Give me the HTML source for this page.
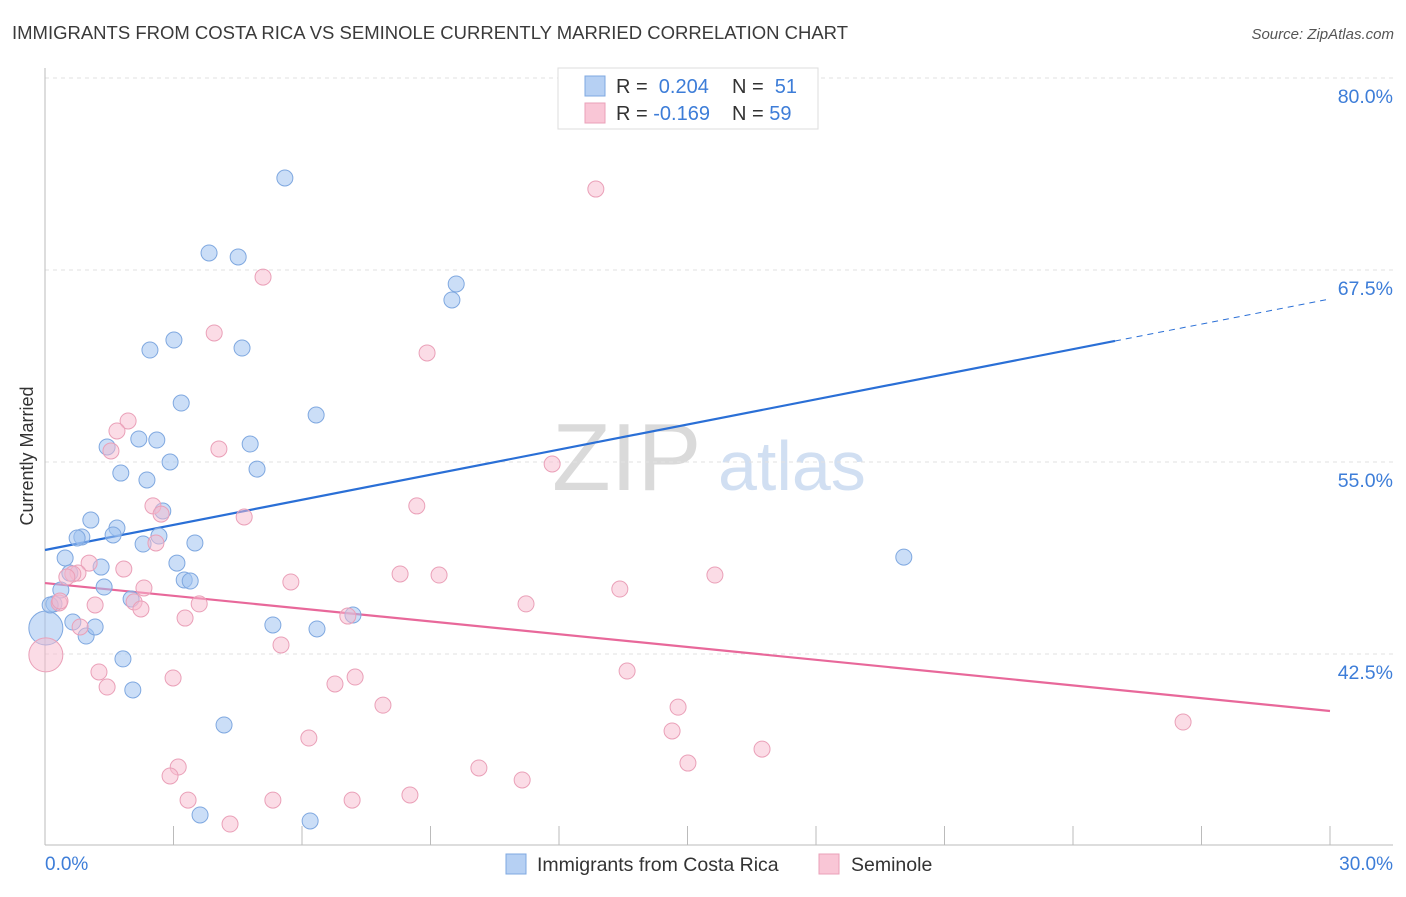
<!DOCTYPE html>
<html><head><meta charset="utf-8">
<style>
body{margin:0;background:#fff;font-family:"Liberation Sans",sans-serif;}
svg text{font-family:"Liberation Sans",sans-serif;}
</style></head>
<body>
<svg id="chart" width="1406" height="892" viewBox="0 0 1406 892">
<text x="12" y="39" font-size="18" fill="#3a3a3a" textLength="836" lengthAdjust="spacingAndGlyphs">IMMIGRANTS FROM COSTA RICA VS SEMINOLE CURRENTLY MARRIED CORRELATION CHART</text>
<text x="1394" y="39" font-size="15" fill="#555" font-style="italic" text-anchor="end">Source: ZipAtlas.com</text>
<g>
<text x="552" y="490" font-size="96" fill="#d4d4d4" font-family="Liberation Serif" opacity="0.85">ZIP</text>
<text x="718" y="490" font-size="70" fill="#c6d8f0" opacity="0.8">atlas</text>
</g>
<g id="grid"></g>
<g id="axes"></g>
<g id="trend"></g>
<g id="points"></g>
<text x="33" y="456" font-size="18" fill="#333" text-anchor="middle" transform="rotate(-90 33 456)">Currently Married</text>
<text x="45" y="870" font-size="19" fill="#3d7dd8">0.0%</text>
<text x="1393" y="870" font-size="19" fill="#3d7dd8" text-anchor="end">30.0%</text>
<g>
<rect x="558" y="68" width="260" height="61" fill="#fff" stroke="#ddd"/>
<rect x="585" y="76" width="20" height="20" fill="#b6d0f3" stroke="#7fa8e0"/>
<rect x="585" y="103" width="20" height="20" fill="#f9c6d6" stroke="#eaa0b8"/>
<text x="616" y="93" font-size="20" fill="#333">R = <tspan fill="#3d7dd8">&#160;0.204</tspan><tspan x="732">N = </tspan><tspan fill="#3d7dd8">&#160;51</tspan></text>
<text x="616" y="120" font-size="20" fill="#333">R = <tspan fill="#3d7dd8">-0.169</tspan><tspan x="732">N = </tspan><tspan fill="#3d7dd8">59</tspan></text>
</g>
<g>
<rect x="506" y="854" width="20" height="20" fill="#b6d0f3" stroke="#7fa8e0"/>
<text x="537" y="871" font-size="19.5" fill="#333">Immigrants from Costa Rica</text>
<rect x="819" y="854" width="20" height="20" fill="#f9c6d6" stroke="#eaa0b8"/>
<text x="851" y="871" font-size="19.5" fill="#333">Seminole</text>
</g>
</svg>
<script>
const yTicks=[80.0,67.5,55.0,42.5];
const blueX=[5.60,3.83,4.51,9.60,9.50,3.01,2.45,4.60,3.18,6.33,1.45,2.19,2.61,4.79,2.92,1.77,4.95,2.38,2.75,1.07,1.68,0.86,0.75,1.59,2.29,2.66,3.50,0.47,20.05,1.31,0.58,3.08,3.25,3.39,0.37,0.21,1.38,2.01,7.19,0.65,0.96,1.17,5.32,6.35,1.82,2.05,4.18,3.62,6.19,0.02,0.12];
const blueY=[73.49,68.61,68.35,66.59,65.55,62.94,62.29,62.42,58.84,58.06,55.98,56.50,56.43,56.17,55.00,54.28,54.54,53.83,51.81,51.22,50.70,50.12,50.05,50.25,49.66,50.18,49.73,48.75,48.81,48.16,47.77,48.42,47.32,47.25,46.67,45.76,46.86,46.08,45.04,44.58,43.67,44.26,44.39,44.13,42.18,40.16,37.88,32.02,31.63,44.19,45.69];
const blueBig=[49];
const pinkX=[12.86,5.09,3.95,8.92,1.94,1.68,1.54,4.06,11.84,2.52,8.68,2.71,4.65,1.03,0.77,0.65,1.84,2.59,2.31,5.74,8.29,9.20,13.42,15.64,0.33,1.17,2.08,2.24,3.60,3.27,11.23,7.07,0.82,5.51,1.26,2.99,1.45,6.77,7.24,13.59,7.89,14.78,14.64,6.16,26.57,16.74,15.01,3.11,2.92,10.13,11.14,3.34,5.32,7.17,8.52,4.32,0.02,0.35,0.51];
const pinkY=[72.77,67.04,63.40,62.10,57.67,57.02,55.72,55.85,54.87,52.14,52.14,51.61,51.42,48.42,47.77,47.71,48.03,49.73,46.80,47.19,47.71,47.64,46.73,47.64,45.82,45.69,45.89,45.43,45.76,44.84,45.76,44.97,44.26,43.09,41.33,40.94,40.35,40.55,41.00,41.39,39.17,39.04,37.49,37.03,38.07,36.31,35.40,35.14,34.56,35.08,34.30,32.99,32.99,32.99,33.32,31.43,42.44,45.95,47.51];
const pinkBig=[56];
const blueTrend=[49.27,0.5448];
const blueSolidEnd=[24.98];
const pinkTrend=[47.12,-0.2777];

const NS="http://www.w3.org/2000/svg";
const X=v=>45+v*(1285/30);
const Y=v=>78+(80-v)*(192/12.5);
function mk(tag,attrs,parent){const e=document.createElementNS(NS,tag);for(const k in attrs)e.setAttribute(k,attrs[k]);parent.appendChild(e);return e;}
const grid=document.getElementById('grid'),axes=document.getElementById('axes'),trend=document.getElementById('trend'),pts=document.getElementById('points');
yTicks.forEach((t,i)=>{
  const l=mk('line',{x1:45,x2:1393,y1:Y(t),y2:Y(t),stroke:'#e2e2e2','stroke-dasharray':'4,4'},grid);
  
  
  const tx=mk('text',{x:1393,y:Y(t)+25,'font-size':19.5,fill:'#3d7dd8','text-anchor':'end'},grid);
  tx.textContent=t.toFixed(1)+'%';
  
  
});
const ax=mk('line',{x1:45,x2:1393,y1:845,y2:845,stroke:'#bbb'},axes);


const ay=mk('line',{x1:45,x2:45,y1:68,y2:845,stroke:'#bbb'},axes);


for(let i=1;i<=10;i++){
  const tk=mk('line',{x1:X(i*3),x2:X(i*3),y1:826,y2:845,stroke:'#bbb'},axes);
  
  
}
const bl=mk('line',{x1:X(0),y1:Y(blueTrend[0]),x2:X(blueSolidEnd[0]),y2:Y(blueTrend[0]+blueTrend[1]*blueSolidEnd[0]),stroke:'#2a6fd6','stroke-width':2.2},trend);


const bd=mk('line',{x1:X(blueSolidEnd[0]),y1:Y(blueTrend[0]+blueTrend[1]*blueSolidEnd[0]),x2:X(30),y2:Y(blueTrend[0]+blueTrend[1]*30),stroke:'#2a6fd6','stroke-width':1,'stroke-dasharray':'6,5'},trend);


const pl=mk('line',{x1:X(0),y1:Y(pinkTrend[0]),x2:X(30),y2:Y(pinkTrend[0]+pinkTrend[1]*30),stroke:'#e8689a','stroke-width':2.2},trend);


blueX.forEach((v,i)=>{
  const c=mk('circle',{cx:X(v),cy:Y(blueY[i]),r:blueBig.includes(i)?17:8,fill:'rgba(160,195,240,0.55)',stroke:'#7fa8e0','stroke-width':1},pts);
  
  
});
pinkX.forEach((v,i)=>{
  const c=mk('circle',{cx:X(v),cy:Y(pinkY[i]),r:pinkBig.includes(i)?17:8,fill:'rgba(247,185,205,0.5)',stroke:'#eaa0b8','stroke-width':1},pts);
  
  
});
</script>
</body></html>
